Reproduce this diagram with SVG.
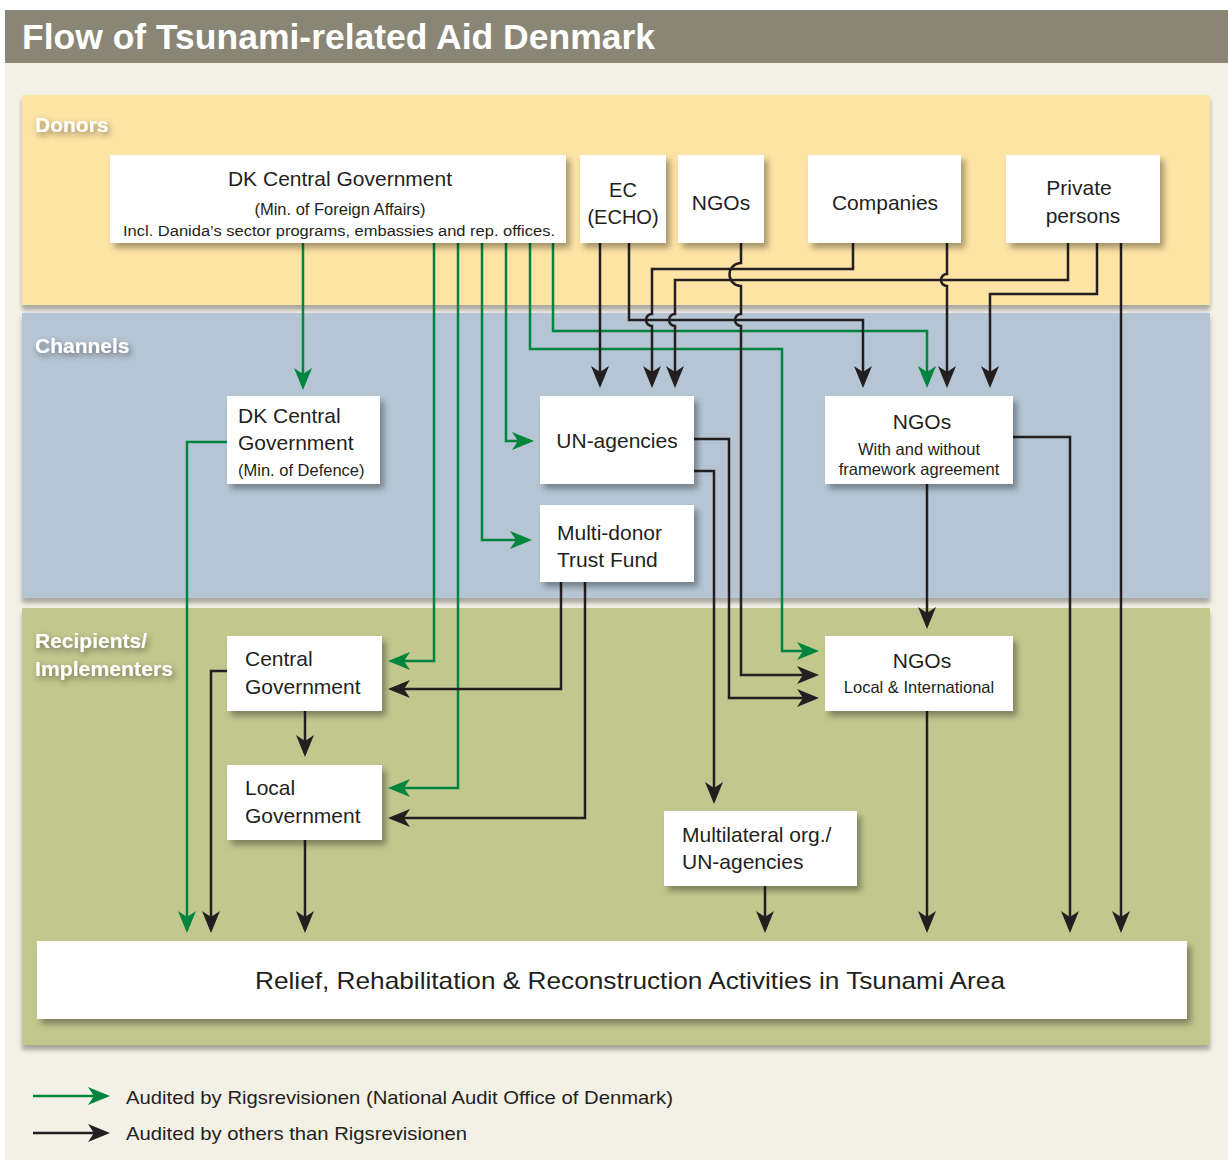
<svg xmlns="http://www.w3.org/2000/svg" width="1228" height="1160" viewBox="0 0 1228 1160">
<defs>
<style>
.t{font-family:'Liberation Sans',Arial,sans-serif;fill:#231f20}
.box{fill:#fff;filter:url(#sh)}
.bl{stroke:#231f20;stroke-width:2.5;fill:none;marker-end:url(#ab)}
.gr{stroke:#00853e;stroke-width:2.5;fill:none;marker-end:url(#ag)}
.lab{font-family:'Liberation Sans',Arial,sans-serif;font-weight:bold;font-size:21px;fill:#fff;filter:url(#ts)}
</style>
<filter id="sh" x="-10%" y="-10%" width="130%" height="140%"><feDropShadow dx="4" dy="5" stdDeviation="3" flood-color="#000" flood-opacity="0.35"/></filter>
<filter id="bs" x="-5%" y="-5%" width="110%" height="115%"><feDropShadow dx="0" dy="5" stdDeviation="2" flood-color="#000" flood-opacity="0.3"/></filter>
<filter id="ts" x="-20%" y="-40%" width="140%" height="180%"><feDropShadow dx="2" dy="3" stdDeviation="3" flood-color="#000" flood-opacity="0.45"/></filter>
<marker id="ab" markerUnits="userSpaceOnUse" viewBox="0 0 24 18" markerWidth="24" markerHeight="18" refX="18" refY="9" orient="auto"><path d="M0,0 L22,9 L0,18 L6,9 Z" fill="#231f20"/></marker>
<marker id="ag" markerUnits="userSpaceOnUse" viewBox="0 0 24 18" markerWidth="24" markerHeight="18" refX="18" refY="9" orient="auto"><path d="M0,0 L22,9 L0,18 L6,9 Z" fill="#00853e"/></marker>
</defs>
<rect x="0" y="0" width="1228" height="1160" fill="#fff"/>
<rect x="5" y="10" width="1223" height="1150" fill="#f3f0e6"/>
<rect x="5" y="10" width="1223" height="53" fill="#8a8676"/>
<text x="22" y="49" font-family="'Liberation Sans',Arial,sans-serif" font-weight="bold" font-size="35" fill="#fff" textLength="633" lengthAdjust="spacingAndGlyphs">Flow of Tsunami-related Aid Denmark</text>

<g id="bands">
<rect x="22" y="95" width="1188" height="210" fill="#fde3a4" filter="url(#bs)"/>
<rect x="22" y="313" width="1188" height="285" fill="#b5c5d3" filter="url(#bs)"/>
<rect x="22" y="608" width="1188" height="437" fill="#c2c78e" filter="url(#bs)"/>
<text class="lab" x="35" y="132">Donors</text>
<text class="lab" x="35" y="353">Channels</text>
<text class="lab" x="35" y="648">Recipients/</text>
<text class="lab" x="35" y="676" textLength="138" lengthAdjust="spacingAndGlyphs">Implementers</text>
</g>

<g id="connectors">
<path class="gr" d="M303,243 V386"/>
<path class="gr" d="M434,243 V661 H392"/>
<path class="gr" d="M458,243 V788 H392"/>
<path class="gr" d="M482,243 V540 H528"/>
<path class="gr" d="M506,243 V441 H530"/>
<path class="gr" d="M530,243 V349 H782 V651 H815"/>
<path class="gr" d="M553,243 V331 H927 V384"/>
<path class="gr" d="M227,442 H187 V929"/>

<path class="bl" d="M600,243 V384"/>
<path class="bl" d="M629,243 V320 H863 V384"/>
<path class="bl" d="M853,243 V269 H652 V314 A6,6 0 0,0 652,326 V384"/>
<path class="bl" d="M1068,243 V280 H675 V314 A6,6 0 0,0 675,326 V384"/>
<path class="bl" d="M1097,243 V294 H990 V384"/>
<path class="bl" d="M1121,243 V929"/>
<path class="bl" d="M947,243 V274 A6,6 0 0,0 947,286 V384"/>
<path class="bl" d="M741,243 V263 A11.5,11.5 0 0,0 741,286 V314 A6,6 0 0,0 741,326 V675 H815"/>
<path class="bl" d="M694,439 H729 V698 H815"/>
<path class="bl" d="M694,471 H714 V800"/>
<path class="bl" d="M1013,437 H1070 V929"/>
<path class="bl" d="M927,484 V625"/>
<path class="bl" d="M927,711 V929"/>
<path class="bl" d="M765,886 V929"/>
<path class="bl" d="M561,582 V689 H392"/>
<path class="bl" d="M585,582 V818 H392"/>
<path class="bl" d="M305,711 V753"/>
<path class="bl" d="M227,671 H211 V929"/>
<path class="bl" d="M305,840 V929"/>
</g>

<g id="dk-foreign">
<rect class="box" x="110" y="155" width="456" height="88"/>
<text class="t" x="340" y="186" font-size="21" text-anchor="middle">DK Central Government</text>
<text class="t" x="340" y="215" font-size="16.5" text-anchor="middle">(Min. of Foreign Affairs)</text>
<text class="t" x="339" y="236" font-size="15.5" text-anchor="middle" textLength="432" lengthAdjust="spacingAndGlyphs">Incl. Danida’s sector programs, embassies and rep. offices.</text>
</g>
<g id="ec">
<rect class="box" x="580" y="155" width="86" height="88"/>
<text class="t" x="623" y="197" font-size="20" text-anchor="middle">EC</text>
<text class="t" x="623" y="224" font-size="20" text-anchor="middle">(ECHO)</text>
</g>
<g id="ngos-donor">
<rect class="box" x="678" y="155" width="86" height="88"/>
<text class="t" x="721" y="210" font-size="21" text-anchor="middle">NGOs</text>
</g>
<g id="companies">
<rect class="box" x="808" y="155" width="153" height="88"/>
<text class="t" x="885" y="210" font-size="21" text-anchor="middle">Companies</text>
</g>
<g id="private">
<rect class="box" x="1006" y="155" width="154" height="88"/>
<text class="t" x="1079" y="195" font-size="21" text-anchor="middle">Private</text>
<text class="t" x="1083" y="223" font-size="21" text-anchor="middle">persons</text>
</g>

<g id="dk-defence">
<rect class="box" x="227" y="396" width="153" height="88"/>
<text class="t" x="238" y="423" font-size="21">DK Central</text>
<text class="t" x="238" y="450" font-size="21">Government</text>
<text class="t" x="238" y="476" font-size="16.5">(Min. of Defence)</text>
</g>
<g id="un-agencies">
<rect class="box" x="540" y="396" width="154" height="88"/>
<text class="t" x="617" y="448" font-size="21" text-anchor="middle">UN-agencies</text>
</g>
<g id="mdtf">
<rect class="box" x="540" y="505" width="154" height="77"/>
<text class="t" x="557" y="540" font-size="21">Multi-donor</text>
<text class="t" x="557" y="567" font-size="21">Trust Fund</text>
</g>
<g id="ngos-framework">
<rect class="box" x="825" y="396" width="188" height="88"/>
<text class="t" x="922" y="429" font-size="21" text-anchor="middle">NGOs</text>
<text class="t" x="919" y="455" font-size="16.5" text-anchor="middle">With and without</text>
<text class="t" x="919" y="475" font-size="16.5" text-anchor="middle">framework agreement</text>
</g>

<g id="central-gov">
<rect class="box" x="227" y="636" width="155" height="75"/>
<text class="t" x="245" y="666" font-size="21">Central</text>
<text class="t" x="245" y="694" font-size="21">Government</text>
</g>
<g id="local-gov">
<rect class="box" x="227" y="765" width="155" height="75"/>
<text class="t" x="245" y="795" font-size="21">Local</text>
<text class="t" x="245" y="823" font-size="21">Government</text>
</g>
<g id="ngos-local">
<rect class="box" x="825" y="636" width="188" height="75"/>
<text class="t" x="922" y="668" font-size="21" text-anchor="middle">NGOs</text>
<text class="t" x="919" y="693" font-size="16.5" text-anchor="middle">Local &amp; International</text>
</g>
<g id="multilateral">
<rect class="box" x="664" y="811" width="193" height="75"/>
<text class="t" x="682" y="842" font-size="21">Multilateral org./</text>
<text class="t" x="682" y="869" font-size="21">UN-agencies</text>
</g>
<g id="relief">
<rect class="box" x="37" y="941" width="1150" height="78"/>
<text class="t" x="630" y="989" font-size="24" text-anchor="middle" textLength="750" lengthAdjust="spacingAndGlyphs">Relief, Rehabilitation &amp; Reconstruction Activities in Tsunami Area</text>
</g>

<g id="legend">
<path class="gr" d="M33,1096 H106"/>
<text class="t" x="126" y="1104" font-size="19" textLength="547" lengthAdjust="spacingAndGlyphs">Audited by Rigsrevisionen (National Audit Office of Denmark)</text>
<path class="bl" d="M33,1133 H106"/>
<text class="t" x="126" y="1140" font-size="19" textLength="341" lengthAdjust="spacingAndGlyphs">Audited by others than Rigsrevisionen</text>
</g>
</svg>
